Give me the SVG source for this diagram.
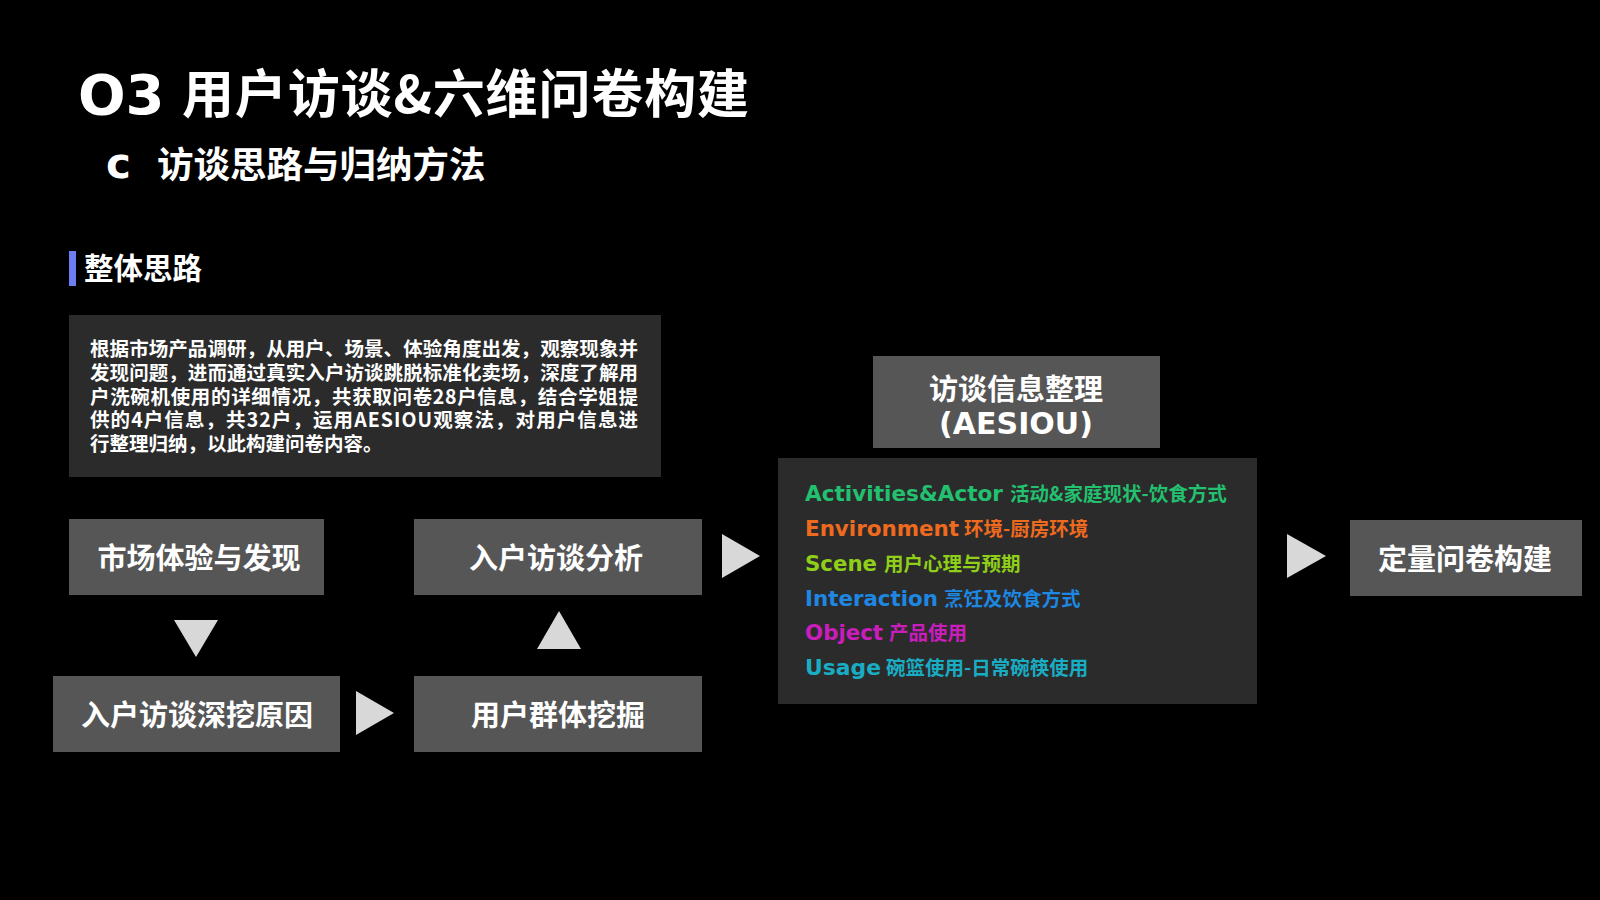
<svg xmlns="http://www.w3.org/2000/svg" width="1600" height="900" viewBox="0 0 1600 900">
<style>
.cjk{font-family:"Noto Sans CJK SC","Noto Sans",sans-serif;font-weight:700;fill:#ffffff}
.lat{font-family:"DejaVu Sans","Noto Sans CJK SC",sans-serif;font-weight:700}
.gbox{fill:#565656}
.dbox{fill:#2b2b2b}
.lbl{font-family:"Noto Sans CJK SC","Noto Sans",sans-serif;font-weight:700;fill:#ffffff;font-size:29px;text-anchor:middle}
.para{font-family:"Noto Sans CJK SC","Noto Sans",sans-serif;font-weight:700;fill:#ffffff;font-size:19.5px}
.tri{fill:#d8d8d8}
.item{font-size:20.5px}
.itemc{font-family:"Noto Sans CJK SC","Noto Sans",sans-serif;font-weight:700;font-size:19.5px}
</style>
<rect x="0" y="0" width="1600" height="900" fill="#000000"/>
<g id="title">
<text x="78" y="114" class="lat" font-size="56" fill="#ffffff">O3</text>
<text x="182" y="113" class="cjk" font-size="52" textLength="567" lengthAdjust="spacing">用户访谈&amp;六维问卷构建</text>
</g>
<g id="subtitle">
<text x="106" y="178" class="lat" font-size="42" fill="#ffffff">c</text>
<text x="157" y="178" class="cjk" font-size="36.5">访谈思路与归纳方法</text>
</g>
<g id="section-header">
<rect x="69" y="251" width="7" height="35" fill="#6b7ff2"/>
<text x="84" y="279" class="cjk" font-size="29.5">整体思路</text>
</g>
<g id="intro-text">
<rect class="dbox" x="69" y="315" width="592" height="162"/>
<text class="para" x="90" y="356" textLength="548" lengthAdjust="spacing">根据市场产品调研，从用户、场景、体验角度出发，观察现象并</text>
<text class="para" x="90" y="380" textLength="548" lengthAdjust="spacing">发现问题，进而通过真实入户访谈跳脱标准化卖场，深度了解用</text>
<text class="para" x="90" y="404" textLength="548" lengthAdjust="spacing">户洗碗机使用的详细情况，共获取问卷28户信息，结合学姐提</text>
<text class="para" x="90" y="427" textLength="548" lengthAdjust="spacing">供的4户信息，共32户，运用AESIOU观察法，对用户信息进</text>
<text class="para" x="90" y="451">行整理归纳，以此构建问卷内容。</text>
</g>
<g id="node-market">
<rect class="gbox" x="69" y="519" width="255" height="76"/>
<text class="lbl" x="199" y="569">市场体验与发现</text>
</g>
<g id="node-deep">
<rect class="gbox" x="53" y="676" width="287" height="76"/>
<text class="lbl" x="197" y="726">入户访谈深挖原因</text>
</g>
<g id="node-group">
<rect class="gbox" x="414" y="676" width="288" height="76"/>
<text class="lbl" x="558" y="726">用户群体挖掘</text>
</g>
<g id="node-analysis">
<rect class="gbox" x="414" y="519" width="288" height="76"/>
<text class="lbl" x="556" y="569">入户访谈分析</text>
</g>
<g id="node-aesiou-title">
<rect class="gbox" x="873" y="356" width="287" height="92"/>
<text class="lbl" x="1016" y="400">访谈信息整理</text>
<text class="lat" x="1016" y="434" font-size="30" fill="#ffffff" text-anchor="middle">(AESIOU)</text>
</g>
<g id="node-aesiou-list">
<rect class="dbox" x="778" y="458" width="479" height="246"/>
<g fill="#22c06f">
<text class="lat item" x="805" y="501" textLength="198" lengthAdjust="spacingAndGlyphs">Activities&amp;Actor</text>
<text class="itemc" x="1010" y="501">活动&amp;家庭现状-饮食方式</text>
</g>
<g fill="#ee6a1e">
<text class="lat item" x="805" y="536" textLength="154" lengthAdjust="spacingAndGlyphs">Environment</text>
<text class="itemc" x="964" y="536">环境-厨房环境</text>
</g>
<g fill="#8fce19">
<text class="lat item" x="805" y="571" textLength="72" lengthAdjust="spacingAndGlyphs">Scene</text>
<text class="itemc" x="884" y="571">用户心理与预期</text>
</g>
<g fill="#1d87e2">
<text class="lat item" x="805" y="606" textLength="133" lengthAdjust="spacingAndGlyphs">Interaction</text>
<text class="itemc" x="944" y="606">烹饪及饮食方式</text>
</g>
<g fill="#c91dbc">
<text class="lat item" x="805" y="640" textLength="78" lengthAdjust="spacingAndGlyphs">Object</text>
<text class="itemc" x="889" y="640">产品使用</text>
</g>
<g fill="#19adc3">
<text class="lat item" x="805" y="675" textLength="76" lengthAdjust="spacingAndGlyphs">Usage</text>
<text class="itemc" x="886" y="675">碗篮使用-日常碗筷使用</text>
</g>
</g>
<g id="node-final">
<rect class="gbox" x="1350" y="520" width="232" height="76"/>
<text class="lbl" x="1465" y="570">定量问卷构建</text>
</g>
<g id="connectors">
<polygon class="tri" points="174,620 218,620 196,657"/>
<polygon class="tri" points="356,691 356,735 394,713"/>
<polygon class="tri" points="537,649 581,649 559,611"/>
<polygon class="tri" points="722,534 722,578 760,556"/>
<polygon class="tri" points="1287,534 1287,578 1326,556"/>
</g>
</svg>
